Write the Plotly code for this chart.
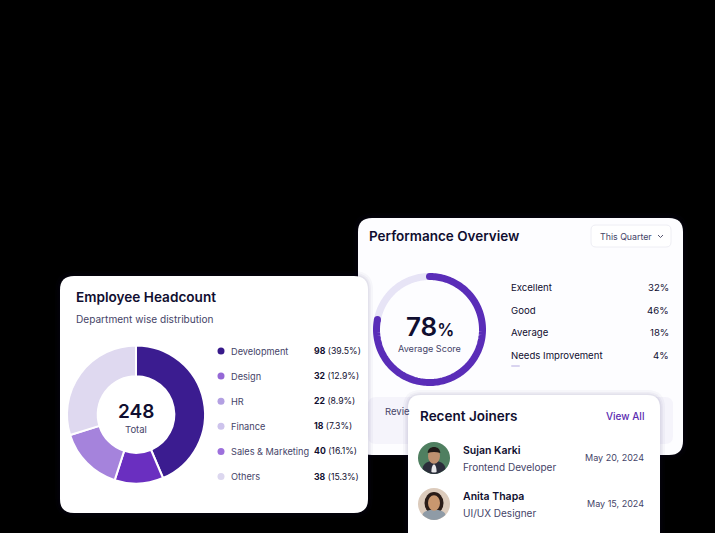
import numpy as np
import plotly.graph_objects as go

W, H = 715, 533
FONT = "Inter"
INK = "#100e30"
SOFT = "#454468"

# headcount card
departments = ["Development", "Design", "HR", "Finance", "Sales & Marketing", "Others"]
dept_counts = ["98", "32", "22", "18", "40", "38"]
dept_shares = ["(39.5%)", "(12.9%)", "(8.9%)", "(7.3%)", "(16.1%)", "(15.3%)"]
dept_colors = ["#37198a", "#9568d6", "#b3a0e2", "#cdc3ec", "#9d70dc", "#dcd7ef"]

# the ring as it is drawn does not follow the legend, these are read off the picture
ring_labels = ["a", "b", "c", "d"]
ring_values = [43.6, 11.4, 15.2, 29.8]
ring_colors = ["#3b1c90", "#6a2fc0", "#a583dc", "#dfd9f0"]

# performance card
score = 78
perf_labels = ["Excellent", "Good", "Average", "Needs Improvement"]
perf_values = ["32%", "46%", "18%", "4%"]

# recent joiners
joiner_names = ["Sujan Karki", "Anita Thapa"]
joiner_roles = ["Frontend Developer", "UI/UX Designer"]
joiner_dates = ["May 20, 2024", "May 15, 2024"]


def rounded(x0, y0, x1, y1, r):
    return (f"M{x0+r},{y0} L{x1-r},{y0} Q{x1},{y0} {x1},{y0+r} L{x1},{y1-r} Q{x1},{y1} {x1-r},{y1} "
            f"L{x0+r},{y1} Q{x0},{y1} {x0},{y1-r} L{x0},{y0+r} Q{x0},{y0} {x0+r},{y0} Z")


def card(x0, y0, x1, y1, r=13, fill="#ffffff", shadow=True):
    out = []
    if shadow:
        for grow, alpha in [(5, 0.03), (3, 0.04), (1.5, 0.05)]:
            out.append(dict(type="path", path=rounded(x0 - grow, y0 - grow, x1 + grow, y1 + grow, r + grow),
                            fillcolor=f"rgba(40,30,90,{alpha})", line_width=0))
    out.append(dict(type="path", path=rounded(x0, y0, x1, y1, r), fillcolor=fill, line_width=0))
    return out


def dot(cx, cy, rx, ry, color):
    return dict(type="circle", x0=cx - rx, x1=cx + rx, y0=cy - ry, y1=cy + ry, fillcolor=color, line_width=0)


def blob(cx, top, bottom, half, color, sag=2.5):
    return dict(type="path", fillcolor=color, line_width=0,
                path=f"M{cx-half},{bottom} C{cx-half},{top} {cx+half},{top} {cx+half},{bottom} "
                     f"Q{cx},{bottom+sag} {cx-half},{bottom} Z")


def label(x, y, text, size=10, color=INK, weight=400, anchor="left"):
    return dict(x=x, y=y, text=text, showarrow=False, xanchor=anchor, yanchor="middle",
                borderpad=0, borderwidth=0,
                font=dict(family=FONT, size=size, color=color, weight=weight))


def domain(cx, cy, r):
    return dict(x=[(cx - r) / W, (cx + r) / W], y=[1 - (cy + r) / H, 1 - (cy - r) / H])


shapes = []
shapes += card(358, 218, 683, 455, r=14, fill="#fdfdff")
shapes.append(dict(type="path", path=rounded(368, 397, 673, 444, 8), fillcolor="#f5f4fb", line_width=0))
shapes.append(dict(type="path", path=rounded(591, 225, 671, 247, 5), fillcolor="#ffffff",
                   line=dict(color="#eeeef4", width=1)))
shapes.append(dict(type="path", path="M658,235 L660.5,237.5 L663,235", line=dict(color="#55546f", width=1)))
shapes.append(dict(type="path", path=rounded(511, 365, 520, 367, 1), fillcolor="#d9d4f0", line_width=0))
shapes += card(60, 276, 368, 513, r=14)
shapes += card(408, 395, 660, 560, r=13)

# avatars
shapes += [dot(434, 458, 16, 16, "#4f7f60"),
           blob(434, 458, 469, 11.4, "#2b2d3a", sag=10),
           blob(434, 462, 472, 2.6, "#e8e8ea", sag=1),
           dot(434, 456, 6, 7.8, "#bf9170"),
           blob(434, 445, 453, 6.3, "#211a18", sag=-2)]
shapes += [dot(434, 504, 16, 16, "#dccbbc"),
           dot(434, 503, 9.5, 11, "#2a1c18"),
           blob(434, 508, 515, 11.4, "#8f9ba6", sag=10),
           dot(434, 503, 6, 7.8, "#c9976f")]
for s in shapes:
    s["layer"] = "below"

annotations = [
    label(76, 297, "Employee Headcount", size=13.6, weight=600),
    label(76, 318.5, "Department wise distribution", size=10.1, color=SOFT),
    label(136, 411, "248", size=19, weight=600, anchor="center"),
    label(136, 429, "Total", size=9.5, color=SOFT, anchor="center"),
    label(369, 236, "Performance Overview", size=13.5, weight=600),
    label(600, 236, "This Quarter", size=8.8, color=SOFT),
    label(429.5, 326, "78<span style='font-size:17px'>%</span>", size=26, weight=600, anchor="center"),
    label(429.5, 348, "Average Score", size=9.1, color=SOFT, anchor="center"),
    label(385, 411, "Revie", size=9.5, color=SOFT),
    label(420, 416, "Recent Joiners", size=13.5, weight=600),
    label(644, 416, "View All", size=10, color="#5b2cb0", weight=500, anchor="right"),
]

for i, name in enumerate(departments):
    y = 351 + i * 25.1
    annotations.append(label(231, y, name, size=9.2, color=SOFT))
    annotations.append(label(314, y, f"<b>{dept_counts[i]}</b> {dept_shares[i]}", size=8.7))

for i, name in enumerate(perf_labels):
    y = 287.5 + i * 22.6
    annotations.append(label(511, y, name, size=9.6))
    annotations.append(label(669, y, perf_values[i], size=9.6, anchor="right"))

for i, name in enumerate(joiner_names):
    y = 450 + i * 46
    annotations.append(label(463, y, name, size=10.5, weight=600))
    annotations.append(label(463, y + 17, joiner_roles[i], size=10, color=SOFT))
    annotations.append(label(643.5, y + 7.5, joiner_dates[i], size=9, color=SOFT, anchor="right"))

fig = go.Figure()

fig.add_trace(go.Scatter(
    x=[221] * len(departments),
    y=[351 + i * 25.1 for i in range(len(departments))],
    mode="markers",
    marker=dict(size=7, color=dept_colors),
    hoverinfo="skip",
))

fig.add_trace(go.Pie(
    labels=ring_labels, values=ring_values, sort=False, direction="clockwise", rotation=0,
    hole=0.555, textinfo="none", hoverinfo="skip", showlegend=False,
    marker=dict(colors=ring_colors, line=dict(color="#ffffff", width=2)),
    domain=domain(136, 414.5, 69),
))

# gauge drawn on a polar subplot so the ends can be rounded
end = score * 3.6
fig.add_trace(go.Scatterpolar(
    r=np.ones(91), theta=np.linspace(end, 360, 91), mode="lines",
    line=dict(color="#e7e4f6", width=7), hoverinfo="skip", subplot="polar",
))
fig.add_trace(go.Scatterpolar(
    r=np.ones(181), theta=np.linspace(0, end, 181), mode="lines",
    line=dict(color="#5a2db8", width=7), hoverinfo="skip", subplot="polar",
))
fig.add_trace(go.Scatterpolar(
    r=[1, 1], theta=[0, end], mode="markers",
    marker=dict(size=7, color="#5a2db8"), hoverinfo="skip", subplot="polar",
))

fig.update_layout(
    width=W, height=H, margin=dict(l=0, r=0, t=0, b=0),
    paper_bgcolor="#000000", plot_bgcolor="#000000",
    showlegend=False,
    xaxis=dict(range=[0, W], visible=False, fixedrange=True),
    yaxis=dict(range=[H, 0], visible=False, fixedrange=True),
    polar=dict(
        domain=domain(429.5, 329.5, 53 * 1.1),
        bgcolor="rgba(0,0,0,0)",
        radialaxis=dict(range=[0, 1.1], visible=False),
        angularaxis=dict(direction="clockwise", rotation=90, visible=False),
    ),
    shapes=shapes,
    annotations=annotations,
)

fig.write_html("out.html", config=dict(displayModeBar=False),
               post_script="document.body.style.margin='0';document.body.style.background='#000';")
